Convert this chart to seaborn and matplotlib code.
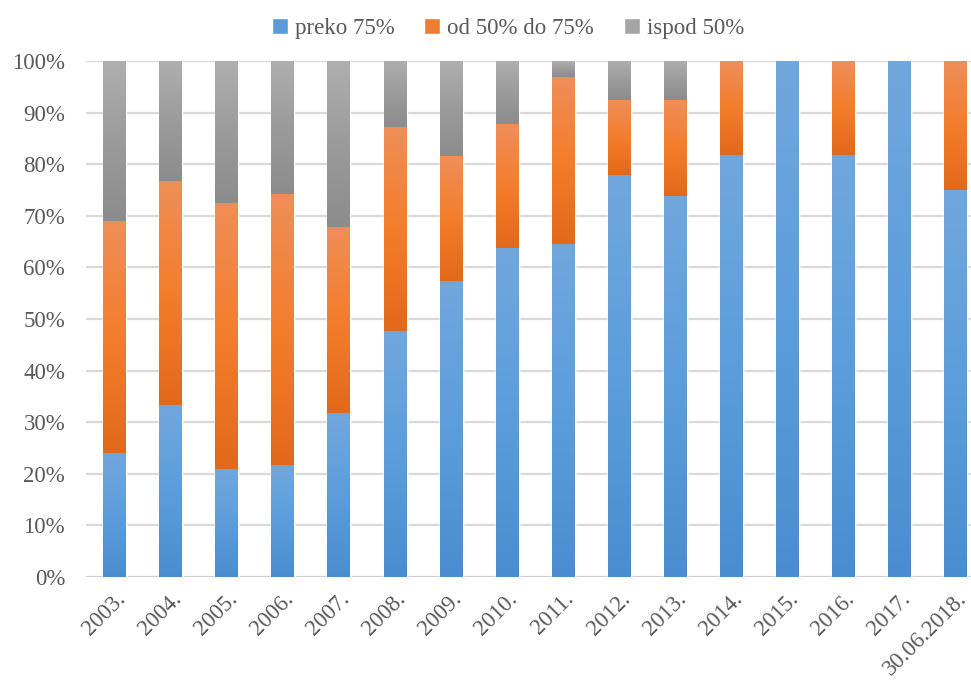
import numpy as np
import pandas as pd
import seaborn as sns
import matplotlib.pyplot as plt
from matplotlib.colors import LinearSegmentedColormap

# data (percent of each year)
years = ['2003.', '2004.', '2005.', '2006.', '2007.', '2008.', '2009.', '2010.',
         '2011.', '2012.', '2013.', '2014.', '2015.', '2016.', '2017.', '30.06.2018.']
preko = [24.0, 33.3, 20.9, 21.7, 31.8, 47.7, 57.4, 63.8, 64.6, 77.9, 73.9, 81.8, 100.0, 81.8, 100.0, 75.0]
od50do75 = [44.9, 43.4, 51.6, 52.5, 36.0, 39.5, 24.2, 24.0, 32.3, 14.5, 18.5, 18.2, 0.0, 18.2, 0.0, 25.0]
ispod = [round(100 - a - b, 1) for a, b in zip(preko, od50do75)]
series_names = ['preko 75%', 'od 50% do 75%', 'ispod 50%']

sns.set_style('white')
plt.rcParams['font.family'] = ['Liberation Serif', 'DejaVu Serif']

df = pd.DataFrame({'year': years, 'preko': preko, 'od': od50do75, 'ispod': ispod})
df['c1'] = df['preko']
df['c2'] = df['c1'] + df['od']
df['c3'] = df['c2'] + df['ispod']

fig = plt.figure(figsize=(9.71, 6.81), dpi=100)
ax = fig.add_axes([86 / 971, 104 / 681, 885 / 971, 516 / 681])

# (bottom, middle, top) gradient colours per series, like the Excel fill
grads = {
    'ispod 50%': ['#8c8c8c', '#9b9b9b', '#afafaf'],
    'od 50% do 75%': ['#e2691a', '#f47d2b', '#f08e58'],
    'preko 75%': ['#4a8dce', '#5d9ddb', '#72a7dc'],
}
solid = {'ispod 50%': '#a5a5a5', 'od 50% do 75%': '#ed7d31', 'preko 75%': '#5b9bd5'}

layers = [('ispod 50%', 'c3', 'c2'), ('od 50% do 75%', 'c2', 'c1'), ('preko 75%', 'c1', None)]
bar_w = 0.41
for name, top_col, bot_col in layers:
    n_before = len(ax.patches)
    sns.barplot(data=df, x='year', y=top_col, color=solid[name], saturation=1,
                width=bar_w, label=name, ax=ax, zorder=2)
    cmap = LinearSegmentedColormap.from_list(name, grads[name])
    grad = np.linspace(0, 1, 256).reshape(-1, 1)
    tops = df[top_col].values
    bots = df[bot_col].values if bot_col else np.zeros(len(df))
    for patch, t, b in zip(ax.patches[n_before:], tops, bots):
        if t - b <= 0:
            continue
        x0 = patch.get_x()
        im = ax.imshow(grad, cmap=cmap, origin='lower', aspect='auto',
                       extent=(x0, x0 + patch.get_width(), b, t), zorder=3)
        im.set_clip_path(patch)

if ax.get_legend() is not None:
    ax.get_legend().remove()

ax.set_xlim(-0.51, 15.27)
ax.set_ylim(0, 100)
ax.set_yticks(range(0, 101, 10))
ax.set_yticklabels([f'{v}%' for v in range(0, 101, 10)])
ax.yaxis.grid(True, color='#d9d9d9', linewidth=1.6, zorder=0)
ax.set_axisbelow(True)
ax.axhline(0, color='#d0d0d0', linewidth=2.2, zorder=1)
for s in ax.spines.values():
    s.set_visible(False)
ax.tick_params(axis='both', length=0, labelsize=16.5, labelcolor='#595959')
ax.tick_params(axis='y', pad=15)
ax.tick_params(axis='x', pad=8)
plt.setp(ax.get_xticklabels(), rotation=45, ha='right', rotation_mode='anchor')
ax.set_xlabel('')
ax.set_ylabel('')

handles, labels = ax.get_legend_handles_labels()
order = [labels.index(n) for n in series_names]
fig.legend([handles[i] for i in order], [labels[i] for i in order],
           loc='center', bbox_to_anchor=(0.523, 0.958), ncol=3, frameon=False,
           fontsize=16.5, labelcolor='#595959', handlelength=0.7, handleheight=0.7,
           handletextpad=0.3, columnspacing=1.3)

fig.savefig('out.png', dpi=100)
